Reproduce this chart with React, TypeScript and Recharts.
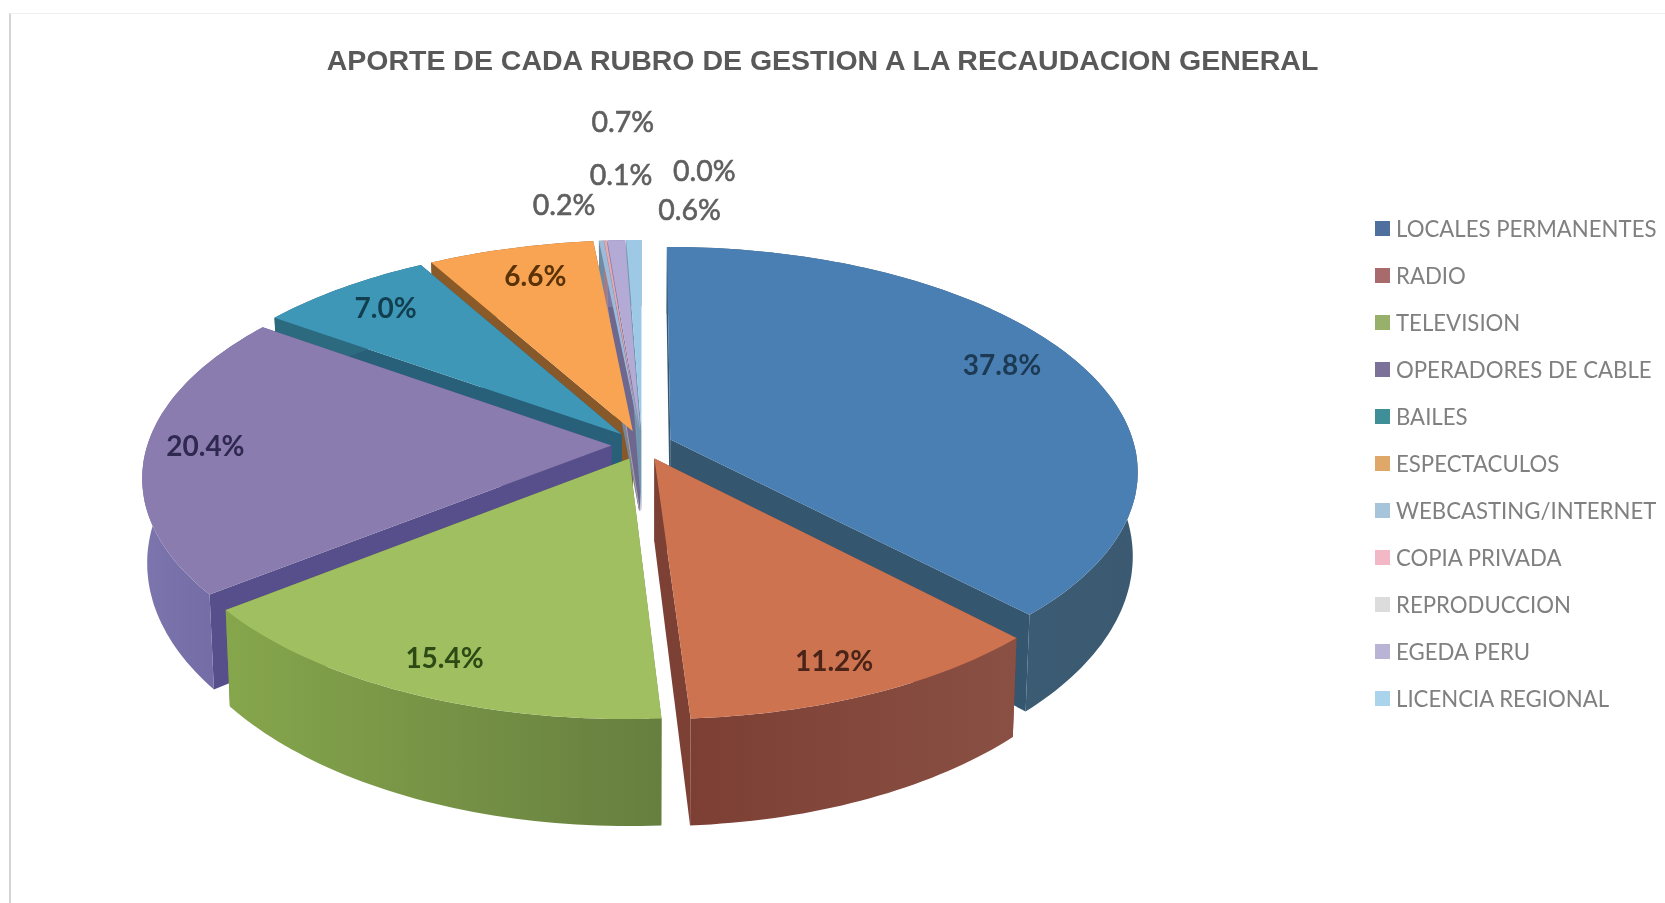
// Aporte de cada rubro: tarta 3D separada dibujada con formas propias sobre Pie
import { PieChart, Pie, Legend } from "recharts";

const CATEGORIES = [
  "LOCALES PERMANENTES",
  "RADIO",
  "TELEVISION",
  "OPERADORES DE CABLE",
  "BAILES",
  "ESPECTACULOS",
  "WEBCASTING/INTERNET",
  "COPIA PRIVADA",
  "REPRODUCCION",
  "EGEDA PERU",
  "LICENCIA REGIONAL",
];
const VALUES = [37.8, 11.2, 15.4, 20.4, 7.0, 6.6, 0.2, 0.1, 0.0, 0.7, 0.6];

const TOP_COLORS = ["#4a7fb3", "#cd7350", "#a0bf60", "#8a7cae", "#3f97b8", "#f8a452", "#9bbbd8", "#e8a8b0", "#dddddd", "#b3aad6", "#9dc8e6"];
const WALL_LEFT = ["#3d6079", "#7d3f34", "#86a64c", "#7d75ad", "#2c6a80", "#8a5a28", "#6f8aa3", "#a87a80", "#aaaaaa", "#7f78a4", "#7296b0"];
const WALL_RIGHT = ["#3b5a72", "#8a5044", "#667f3f", "#6c67a0", "#2c6a80", "#8a5a28", "#6f8aa3", "#a87a80", "#aaaaaa", "#7f78a4", "#7296b0"];
const FACE_COLORS = ["#35566f", "#7d4034", "#6d8a3f", "#574f8c", "#28607a", "#87582a", "#6f8aa3", "#a87a80", "#aaaaaa", "#6e6890", "#7296b0"];
const LEGEND_COLORS = ["#4f6f9f", "#a86a6a", "#97b06a", "#7c7199", "#3f8f98", "#e0a868", "#a6c4da", "#f2b8c6", "#dcdcdc", "#b9b4d6", "#a9d4ec"];
const LABEL_COLORS = ["#1d3a55", "#4a2418", "#2d4a14", "#2f2850", "#123f50", "#5a3208", "#5f5f5f", "#5f5f5f", "#5f5f5f", "#5f5f5f", "#5f5f5f"];
const LABEL_DX = [23, 22, -25, -57, -22, -3, -46, 8, 90, 1, 54];
const LABEL_DY = [-16, 31, 29, -5, -15, -15, -80, -110, -114, -162, -74];
// orden de pintado de las paredes, de atras hacia delante
const WALL_LAYERS = [
  ["LOCALES PERMANENTES", "ESPECTACULOS", "WEBCASTING/INTERNET", "COPIA PRIVADA", "REPRODUCCION", "EGEDA PERU", "LICENCIA REGIONAL"],
  ["BAILES"],
  ["OPERADORES DE CABLE"],
  ["RADIO", "TELEVISION"],
];

const CX = 642;
const CY = 445;
const RX = 464;
const RY = 220.7;
const PERSPECTIVE = 0.138;
const EXPLODE = 0.066;

const data = CATEGORIES.map((name, i) => ({ name, value: VALUES[i], fill: TOP_COLORS[i] }));

// punto del plano de la tarta (u, v) a pantalla; lift = 1 es la cara de abajo
const project = (u: number, v: number, lift = 0) => {
  const f = 1 / (1 - PERSPECTIVE * v);
  const x = RX * u * f;
  const y = RY * v * f;
  const h = (82 / (1 - 0.22 * v)) * lift;
  return [CX + x * (1 - 0.01 * lift), CY + y + h];
};

const toPath = (pts: number[][]) =>
  pts.map((p, i) => `${i ? "L" : "M"}${p[0].toFixed(1)},${p[1].toFixed(1)}`).join(" ") + " Z";

const sliceGeometry = (startAngle: number, endAngle: number) => {
  // recharts da los angulos desde las 3 en sentido antihorario
  const a0 = ((90 - startAngle) * Math.PI) / 180;
  const a1 = ((90 - endAngle) * Math.PI) / 180;
  const mid = (a0 + a1) / 2;
  const ox = EXPLODE * Math.sin(mid);
  const oy = -EXPLODE * Math.cos(mid);
  const steps = Math.max(2, Math.ceil((a1 - a0) / 0.02));
  const rim = (lift: number) => {
    const pts: number[][] = [];
    for (let s = 0; s <= steps; s++) {
      const a = a0 + ((a1 - a0) * s) / steps;
      pts.push(project(ox + Math.sin(a), oy - Math.cos(a), lift));
    }
    return pts;
  };
  return { apex: (lift: number) => project(ox, oy, lift), rim };
};

const wallShape = (layer: string[]) => (props: any) => {
  const i = CATEGORIES.indexOf(props.name);
  if (!layer.includes(props.name)) return <g />;
  const g = sliceGeometry(props.startAngle, props.endAngle);
  const top = g.rim(0);
  const bottom = g.rim(1);
  const gradId = `wall-${i}`;
  return (
    <g>
      <linearGradient id={gradId} x1="0" x2="1" y1="0" y2="0">
        <stop offset="0" stopColor={WALL_LEFT[i]} />
        <stop offset="1" stopColor={WALL_RIGHT[i]} />
      </linearGradient>
      <path d={toPath([g.apex(0), top[0], bottom[0], g.apex(1)])} fill={FACE_COLORS[i]} />
      <path d={toPath([g.apex(0), top[top.length - 1], bottom[bottom.length - 1], g.apex(1)])} fill={FACE_COLORS[i]} />
      <path d={toPath([...top, ...[...bottom].reverse()])} fill={`url(#${gradId})`} />
    </g>
  );
};

const topShape = (props: any) => {
  const g = sliceGeometry(props.startAngle, props.endAngle);
  return <path d={toPath([g.apex(0), ...g.rim(0)])} fill={props.fill} />;
};

const renderLabel = (props: any) => {
  const i = CATEGORIES.indexOf(props.name);
  const a = ((90 - props.midAngle) * Math.PI) / 180;
  const r = 0.75 + EXPLODE;
  const [x, y] = project(r * Math.sin(a), -r * Math.cos(a));
  return (
    <text
      x={x + LABEL_DX[i]}
      y={y + LABEL_DY[i]}
      textAnchor="middle"
      dominantBaseline="central"
      fontFamily="Lato"
      fontSize={i < 6 ? 28 : 28.5}
      fontWeight={i < 6 ? 700 : 400}
      stroke={i < 6 ? "none" : LABEL_COLORS[i]}
      strokeWidth={0.6}
      fill={LABEL_COLORS[i]}
    >
      {`${props.value.toFixed(1)}%`}
    </text>
  );
};

const renderLegend = () => (
  <div>
    {CATEGORIES.map((name, i) => (
      <div key={name} style={{ display: "flex", alignItems: "center", height: 47.05 }}>
        <span style={{ width: 15, height: 15, marginRight: 6, background: LEGEND_COLORS[i] }} />
        <span style={{ fontFamily: "Lato", fontSize: 22.2, color: "#808080", whiteSpace: "nowrap" }}>{name}</span>
      </div>
    ))}
  </div>
);

const pieProps = {
  data,
  dataKey: "value",
  nameKey: "name",
  cx: CX,
  cy: CY,
  outerRadius: RX,
  startAngle: 90,
  endAngle: -270,
  stroke: "none",
  isAnimationActive: false,
};

const App = () => (
  <div style={{ position: "absolute", left: 0, top: 0, width: 1665, height: 903, background: "#fff", overflow: "hidden", filter: "blur(0.6px)" }}>
    <div style={{ position: "absolute", left: 9, top: 13, width: 1656, height: 890, borderLeft: "2px solid #d4d4d4", borderTop: "1px solid #f0f0f0" }} />
    <div
      style={{
        position: "absolute",
        left: 0,
        width: 1645,
        top: 44,
        textAlign: "center",
        fontFamily: "Liberation Sans",
        fontWeight: 700,
        fontSize: 28.5,
        color: "#595959",
        whiteSpace: "nowrap",
      }}
    >
      APORTE DE CADA RUBRO DE GESTION A LA RECAUDACION GENERAL
    </div>
    <PieChart width={1665} height={903} style={{ position: "absolute", left: 0, top: 0 }}>
      {WALL_LAYERS.map((layer) => (
        <Pie key={layer[0]} {...pieProps} shape={wallShape(layer)} legendType="none" />
      ))}
      <Pie {...pieProps} shape={topShape} label={renderLabel} labelLine={false} />
      <Legend content={renderLegend} wrapperStyle={{ left: 1375, top: 205, width: 290 }} />
    </PieChart>
  </div>
);

export default App;
